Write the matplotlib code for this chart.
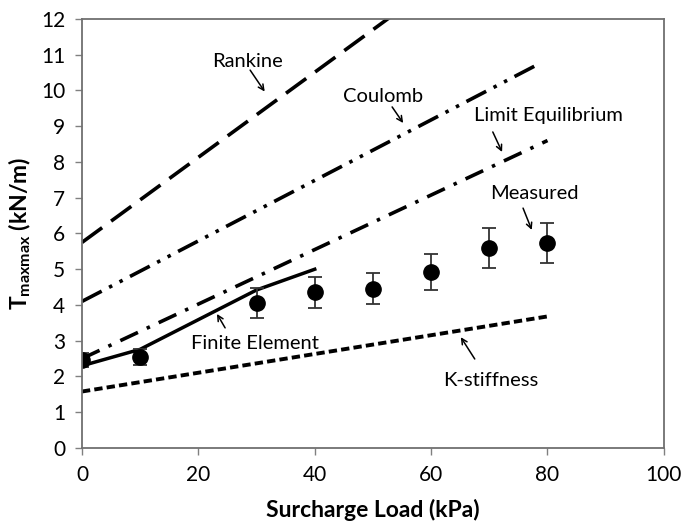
import matplotlib.pyplot as plt
import numpy as np

plt.rcParams['font.family'] = ['Lato', 'DejaVu Sans']
plt.rcParams['lines.scale_dashes'] = False

# surcharge load (kPa)
load_lines = [0, 80]
rankine = [5.75, 15.27]
coulomb_x = [0, 78]
coulomb = [4.1, 10.7]
limit_eq = [2.5, 8.6]
kstiff = [1.58, 3.68]

fe_x = [0, 10, 30, 40]
fe_y = [2.3, 2.76, 4.42, 5.0]

meas_x = [0, 10, 30, 40, 50, 60, 70, 80]
meas_y = [2.47, 2.55, 4.06, 4.35, 4.46, 4.93, 5.59, 5.74]
meas_err = [0.2, 0.22, 0.42, 0.43, 0.44, 0.5, 0.55, 0.56]

fig = plt.figure(figsize=(6.83, 5.23), dpi=100)
ax = fig.add_axes([0.120, 0.1434, 0.852, 0.8203])

ax.plot(load_lines, rankine, color="k", lw=2.6, dashes=(18, 8))
ax.plot(coulomb_x, coulomb, color="k", lw=2.6, dashes=(16, 6, 2.5, 6, 2.5, 6))
ax.plot(load_lines, limit_eq, color="k", lw=2.6, dashes=(14, 7, 2.5, 7))
ax.plot(load_lines, kstiff, color="k", lw=2.8, dashes=(6, 3))
ax.plot(fe_x, fe_y, color="k", lw=2.5)
ax.errorbar(meas_x, meas_y, yerr=meas_err, fmt="o", color="k", ms=11,
            ecolor="#333333", elinewidth=1.3, capsize=5, capthick=1.3)

arrow = dict(arrowstyle="->", color="k", lw=1.1, shrinkA=0, shrinkB=0)
notes = [
    ("Rankine", (28.4, 10.8), (28.9, 10.57), (31.4, 9.97)),
    ("Coulomb", (51.7, 9.83), (53.3, 9.54), (55.2, 9.09)),
    ("Limit Equilibrium", (80.1, 9.29), (70.6, 8.84), (72.2, 8.28)),
    ("Measured", (77.8, 7.13), (75.8, 6.71), (77.3, 6.10)),
    ("Finite Element", (29.7, 2.91), (24.6, 3.36), (23.2, 3.75)),
    ("K-stiffness", (70.3, 1.90), (67.5, 2.49), (65.1, 3.10)),
]
for txt, tpos, a0, a1 in notes:
    ax.text(tpos[0], tpos[1], txt, ha="center", va="center", fontsize=14.5)
    ax.annotate("", xy=a1, xytext=a0, arrowprops=arrow)

ax.set_xlim(0, 100)
ax.set_ylim(0, 12)
ax.set_xticks(range(0, 101, 20))
ax.set_yticks(range(0, 13))
ax.tick_params(direction="out", length=5, width=1, color="#808080",
               labelsize=15, pad=7)
for s in ax.spines.values():
    s.set_color("#707070")
    s.set_linewidth(1.3)

ax.set_xlabel("Surcharge Load (kPa)", fontsize=16.5, fontweight="bold", labelpad=10)
ax.set_ylabel(r"T$_{\mathregular{maxmax}}$ (kN/m)", fontsize=16.5, fontweight="bold", labelpad=6)

fig.savefig("out.png", dpi=100)
